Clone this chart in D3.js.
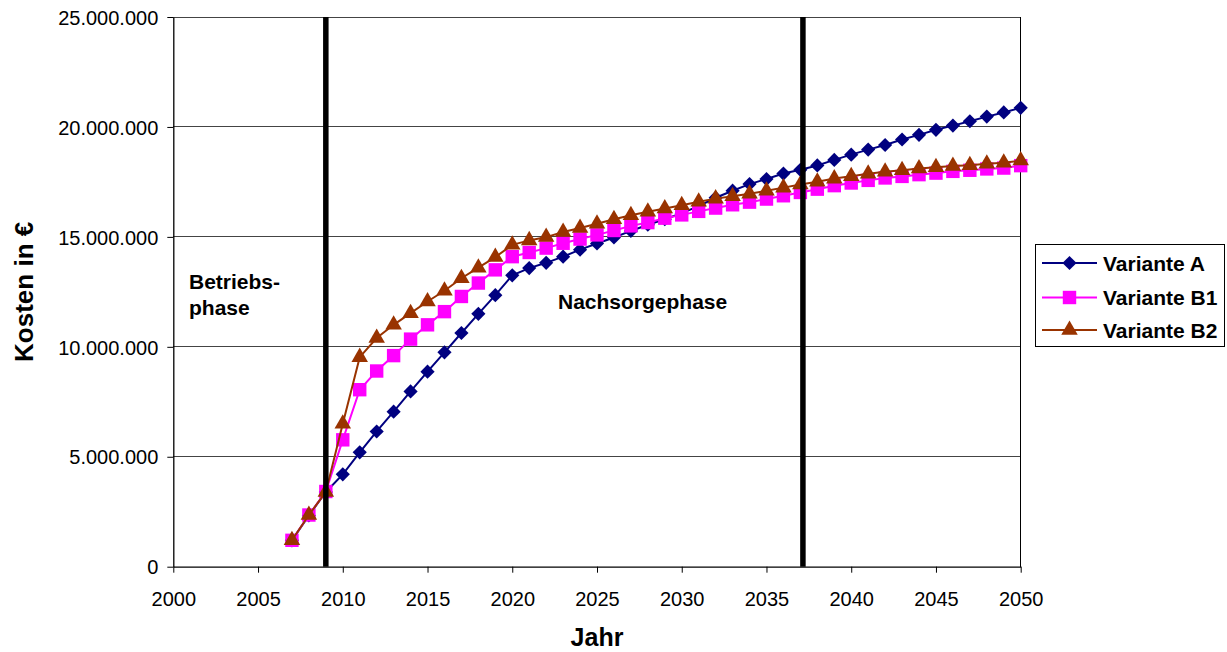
<!DOCTYPE html>
<html>
<head>
<meta charset="utf-8">
<script src="https://cdn.jsdelivr.net/npm/d3@7"></script>
<style>
  html, body { margin: 0; padding: 0; background: #fff; }
  svg { display: block; font-family: "Liberation Sans", Arial, sans-serif; }
</style>
</head>
<body>
<svg id="chart" width="1227" height="652"></svg>
<script>
// Jahre und kumulierte Kosten (EUR) je Variante
const years = [2007, 2008, 2009, 2010, 2011, 2012, 2013, 2014, 2015, 2016, 2017,
  2018, 2019, 2020, 2021, 2022, 2023, 2024, 2025, 2026, 2027, 2028, 2029, 2030,
  2031, 2032, 2033, 2034, 2035, 2036, 2037, 2038, 2039, 2040, 2041, 2042, 2043,
  2044, 2045, 2046, 2047, 2048, 2049, 2050];

const varianteA = [1.2, 2.33, 3.4, 4.2, 5.2, 6.15, 7.05, 7.97, 8.87, 9.75, 10.63,
  11.5, 12.35, 13.25, 13.58, 13.82, 14.1, 14.42, 14.7, 14.97, 15.27, 15.55, 15.8,
  16.08, 16.4, 16.78, 17.1, 17.4, 17.63, 17.88, 18.05, 18.25, 18.5, 18.74, 18.97,
  19.18, 19.43, 19.64, 19.87, 20.06, 20.26, 20.47, 20.66, 20.87].map(v => v * 1e6);

const varianteB1 = [1.2, 2.35, 3.42, 5.77, 8.05, 8.9, 9.6, 10.35, 11.0, 11.6, 12.29,
  12.9, 13.5, 14.1, 14.29, 14.49, 14.71, 14.9, 15.09, 15.29, 15.5, 15.65, 15.85,
  16.0, 16.16, 16.31, 16.46, 16.58, 16.72, 16.87, 17.02, 17.17, 17.33, 17.45, 17.57,
  17.68, 17.75, 17.83, 17.9, 17.98, 18.03, 18.09, 18.13, 18.24].map(v => v * 1e6);

const varianteB2 = [1.2, 2.35, 3.4, 6.5, 9.53, 10.4, 11.0, 11.53, 12.06, 12.55, 13.12,
  13.6, 14.08, 14.64, 14.84, 14.99, 15.22, 15.4, 15.6, 15.8, 15.98, 16.14, 16.29,
  16.44, 16.6, 16.74, 16.85, 16.96, 17.1, 17.24, 17.38, 17.51, 17.65, 17.76, 17.87,
  17.96, 18.03, 18.11, 18.17, 18.22, 18.26, 18.33, 18.37, 18.47].map(v => v * 1e6);

const seriesNames = ["Variante A", "Variante B1", "Variante B2"];
const xTicks = [2000, 2005, 2010, 2015, 2020, 2025, 2030, 2035, 2040, 2045, 2050];
const yTicks = [0, 5e6, 10e6, 15e6, 20e6, 25e6];
const phaseBounds = [2009, 2037.15];

// Layout
const W = 1227, H = 652;
const plot = { left: 173.3, right: 1020.7, top: 17, bottom: 566.7 };

const svg = d3.select("#chart");
const x = d3.scaleLinear().domain([2000, 2050]).range([plot.left, plot.right]);
const y = d3.scaleLinear().domain([0, 25e6]).range([plot.bottom, plot.top]);

const de = d3.formatLocale({ decimal: ",", thousands: ".", grouping: [3], currency: ["", " €"] });
const fmt = de.format(",d");

const series = [
  { name: seriesNames[0], values: varianteA, color: "#000080", shape: "diamond" },
  { name: seriesNames[1], values: varianteB1, color: "#FF00FF", shape: "square" },
  { name: seriesNames[2], values: varianteB2, color: "#993300", shape: "triangle" }
];

// Gridlines
svg.append("g")
  .selectAll("line")
  .data(yTicks.filter(t => t > 0))
  .join("line")
  .attr("x1", plot.left).attr("x2", plot.right)
  .attr("y1", d => y(d)).attr("y2", d => y(d))
  .attr("stroke", "#444").attr("stroke-width", 1)
  .attr("shape-rendering", "crispEdges");

// Right border of the plot area
svg.append("line")
  .attr("x1", plot.right).attr("x2", plot.right)
  .attr("y1", plot.top).attr("y2", plot.bottom)
  .attr("stroke", "#000").attr("stroke-width", 1)
  .attr("shape-rendering", "crispEdges");

// Axes
const xAxis = svg.append("g")
  .attr("transform", `translate(0,${plot.bottom})`)
  .call(d3.axisBottom(x).tickValues(xTicks).tickFormat(d3.format("d")).tickSize(6).tickSizeOuter(0));
const yAxis = svg.append("g")
  .attr("transform", `translate(${plot.left},0)`)
  .call(d3.axisLeft(y).tickValues(yTicks).tickFormat(fmt).tickSize(6).tickSizeOuter(0));

[xAxis, yAxis].forEach(g => {
  g.select(".domain").attr("stroke", "#000").attr("stroke-width", 1.3);
  g.selectAll(".tick line").attr("stroke", "#000");
  g.selectAll(".tick text")
    .attr("fill", "#000")
    .style("font-family", "'Liberation Sans', Arial, sans-serif")
    .style("font-size", "20px");
});
xAxis.selectAll(".tick text").attr("y", 0).attr("dy", 0)
  .attr("transform", "translate(0,39.5)");
yAxis.selectAll(".tick text").attr("x", -15).attr("dy", "0.36em");

// Axis titles
svg.append("text")
  .attr("x", (plot.left + plot.right) / 2).attr("y", 646)
  .attr("text-anchor", "middle")
  .style("font-size", "25px").style("font-weight", "bold")
  .text("Jahr");
svg.append("text")
  .attr("transform", `translate(33,${(plot.top + plot.bottom) / 2}) rotate(-90)`)
  .attr("text-anchor", "middle")
  .style("font-size", "26px").style("font-weight", "bold")
  .text("Kosten in €");

// Marker shapes
const symbolFor = {
  diamond: d3.symbol().type(d3.symbolDiamond2).size(128),
  square: d3.symbol().type(d3.symbolSquare).size(180),
  triangle: d3.symbol().type(d3.symbolTriangle).size(118)
};

const line = d3.line().x((d, i) => x(years[i])).y(d => y(d));

series.forEach(s => {
  const g = svg.append("g");
  g.append("path")
    .attr("d", line(s.values))
    .attr("fill", "none")
    .attr("stroke", s.color)
    .attr("stroke-width", 2);
  g.selectAll("path.mk")
    .data(s.values)
    .join("path")
    .attr("class", "mk")
    .attr("transform", (d, i) => `translate(${x(years[i])},${y(d)})`)
    .attr("d", symbolFor[s.shape]())
    .attr("fill", s.color);
});

// Phase boundaries
svg.append("g")
  .selectAll("line")
  .data(phaseBounds)
  .join("line")
  .attr("x1", d => x(d)).attr("x2", d => x(d))
  .attr("y1", plot.top).attr("y2", plot.bottom)
  .attr("stroke", "#000").attr("stroke-width", 5.5);

// Phase labels
const phaseText = svg.append("g").style("font-size", "21px").style("font-weight", "bold");
phaseText.append("text").attr("x", 189).attr("y", 289).text("Betriebs-");
phaseText.append("text").attr("x", 189).attr("y", 315).text("phase");
phaseText.append("text").attr("x", 558).attr("y", 309).text("Nachsorgephase");

// Legend
const lg = svg.append("g");
lg.append("rect")
  .attr("x", 1035.5).attr("y", 244.5).attr("width", 189).attr("height", 102)
  .attr("fill", "#fff").attr("stroke", "#000").attr("stroke-width", 1);
const rowsY = [263, 297.5, 330];
series.forEach((s, i) => {
  const ry = rowsY[i];
  lg.append("line")
    .attr("x1", 1042).attr("x2", 1097).attr("y1", ry).attr("y2", ry)
    .attr("stroke", s.color).attr("stroke-width", 2);
  lg.append("path")
    .attr("transform", `translate(1069.5,${ry})`)
    .attr("d", symbolFor[s.shape]())
    .attr("fill", s.color);
  lg.append("text")
    .attr("x", 1103).attr("y", ry).attr("dy", "0.36em")
    .style("font-size", "21px").style("font-weight", "bold")
    .text(s.name);
});
</script>
</body>
</html>
